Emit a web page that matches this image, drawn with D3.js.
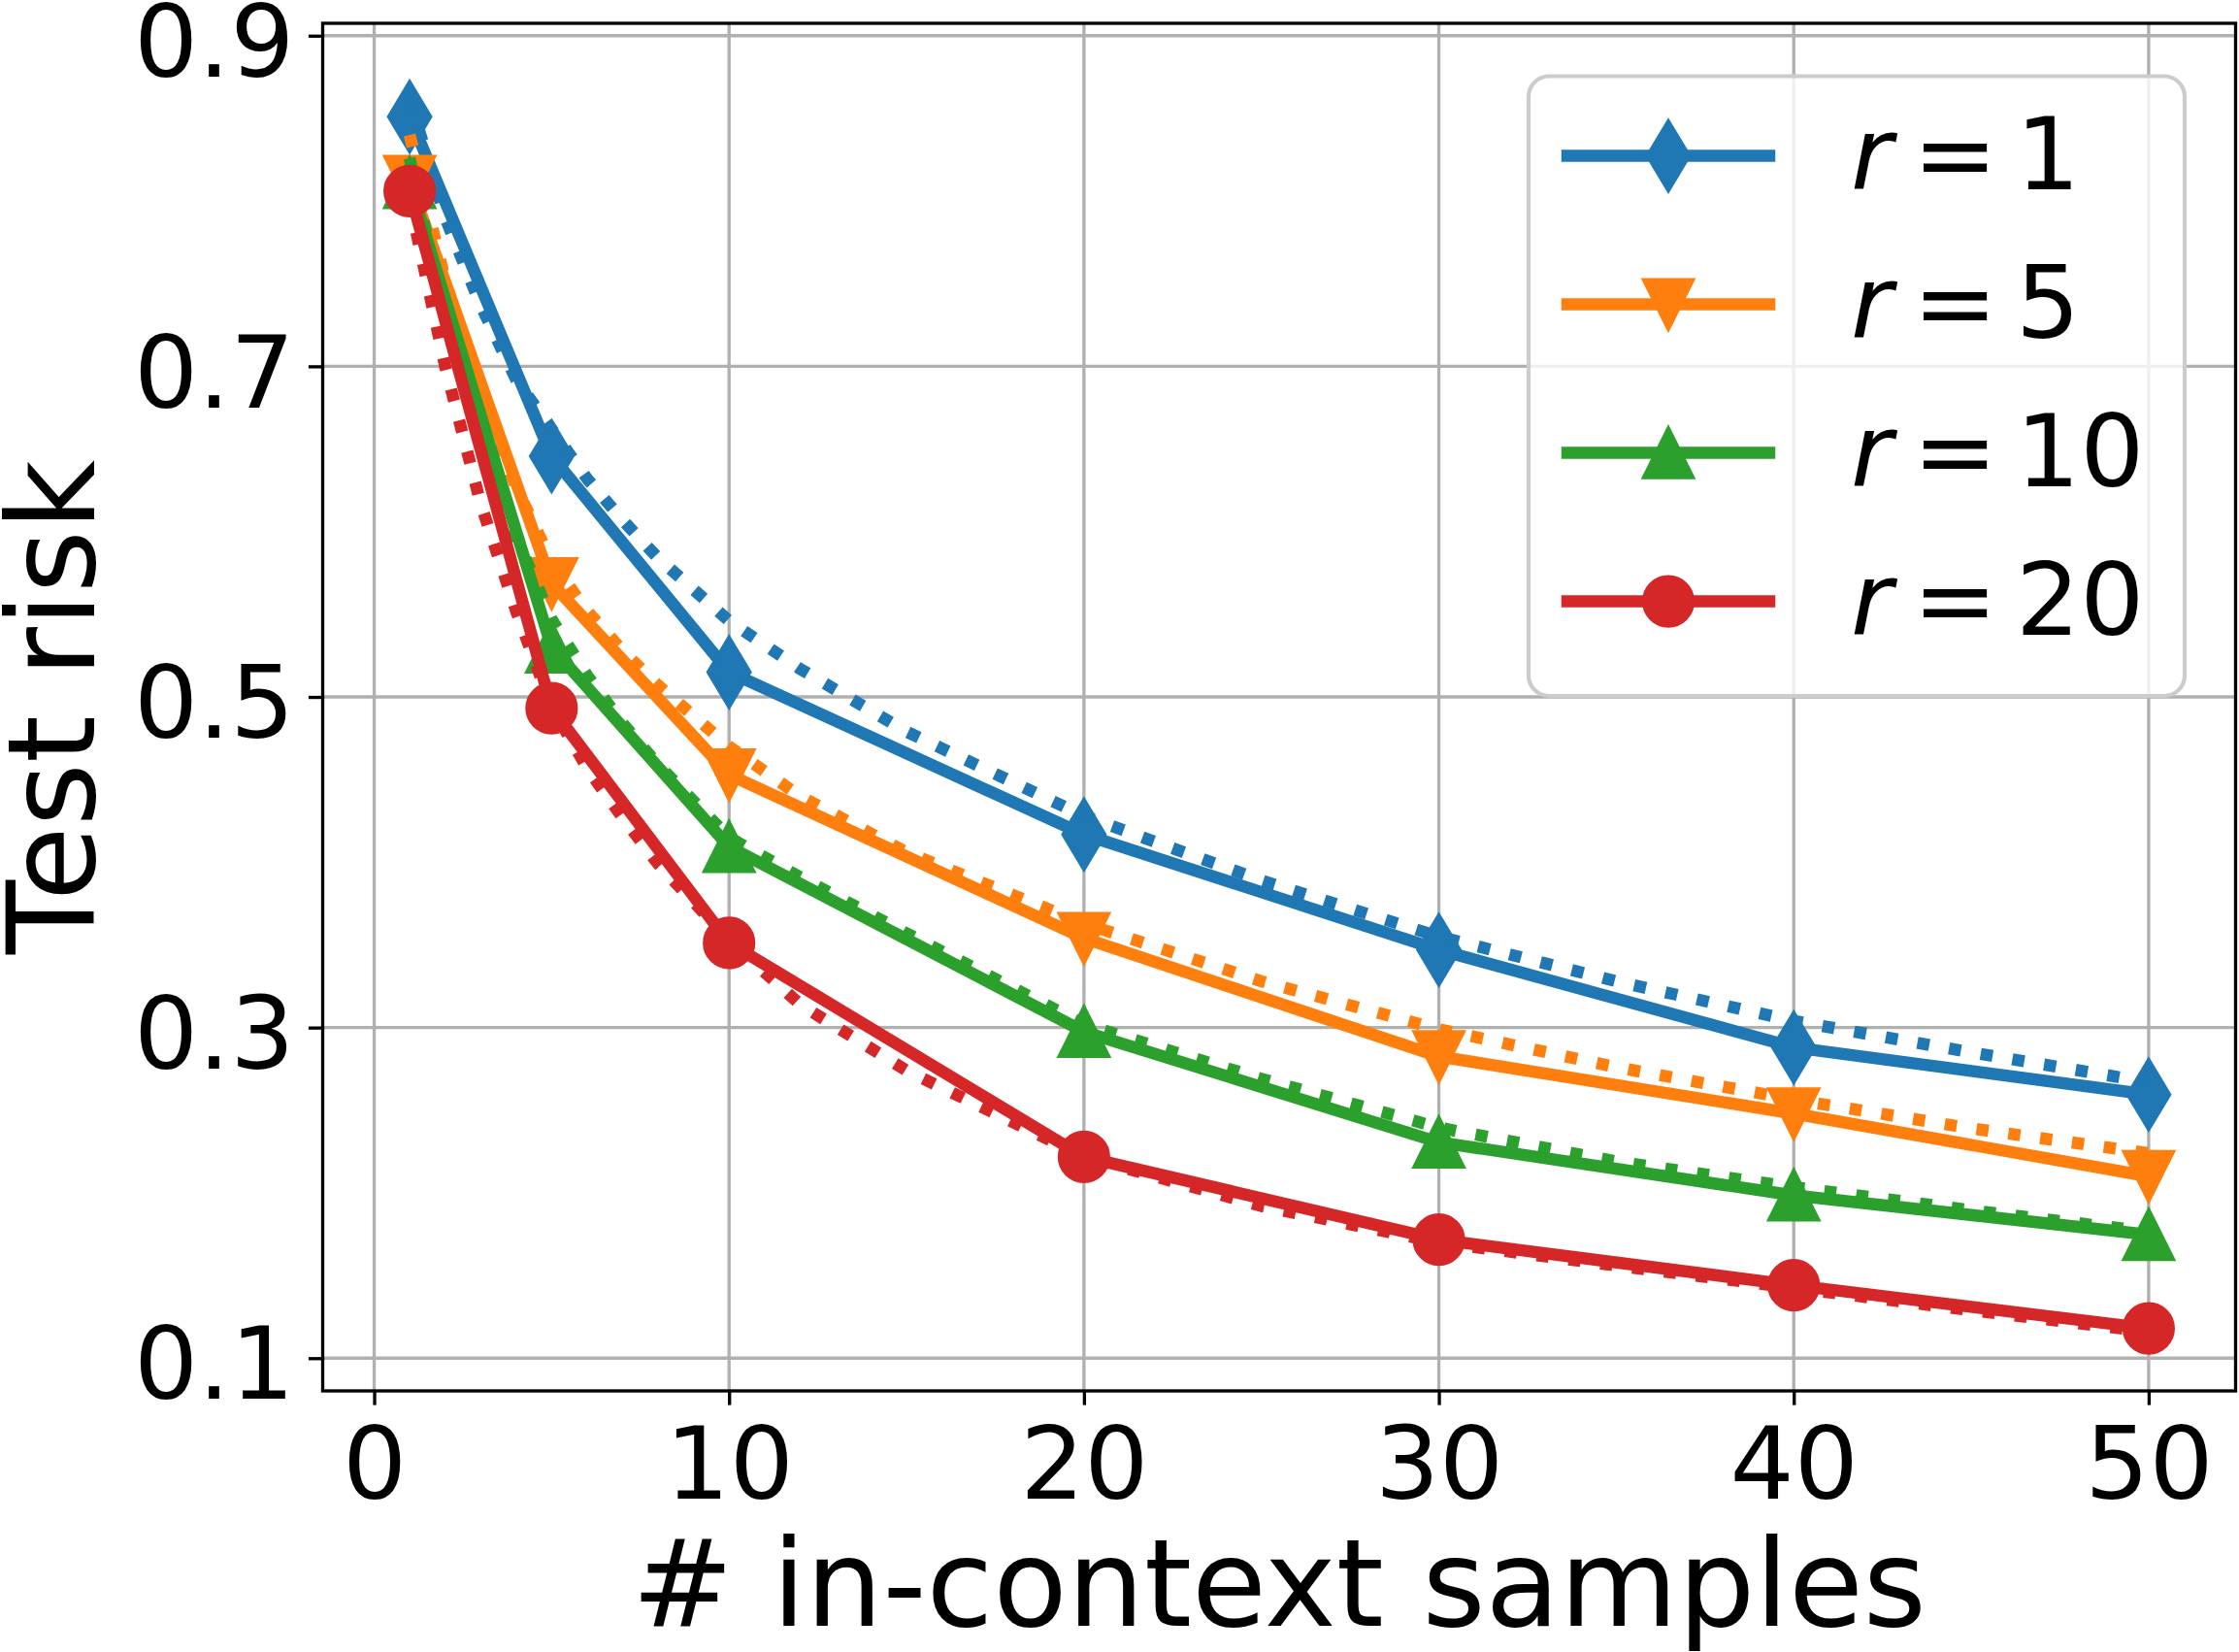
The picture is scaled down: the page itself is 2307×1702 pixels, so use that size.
<!DOCTYPE html>
<html>
<head>
<meta charset="utf-8">
<script src="https://cdn.jsdelivr.net/npm/d3@7"></script>
<style>
  html, body { margin: 0; padding: 0; background: #fff; }
  svg { display: block; font-family: "DejaVu Sans", sans-serif; }
</style>
</head>
<body>
<svg id="chart"></svg>
<script>
var width = 2307;
var height = 1702;

// measured test risk (solid lines with markers)
var nSamples = [1, 5, 10, 20, 30, 40, 50];
var riskR1  = [0.851, 0.6456, 0.515, 0.4168, 0.347, 0.288, 0.2595];
var riskR5  = [0.812, 0.5687, 0.453, 0.354, 0.2825, 0.248, 0.210];
var riskR10 = [0.811, 0.530, 0.4094, 0.2975, 0.2306, 0.1985, 0.1747];
var riskR20 = [0.806, 0.4932, 0.3512, 0.2218, 0.1717, 0.1441, 0.118];

// predicted risk (dotted lines, no markers)
var nTheory = [1, 2, 3, 4, 5, 6, 7, 8, 10, 12, 15, 20, 25, 30, 35, 40, 45, 50];
var theoryR1  = [0.862, 0.790, 0.737, 0.692, 0.662, 0.632, 0.607, 0.584, 0.546, 0.517, 0.479, 0.428, 0.389, 0.355, 0.328, 0.304, 0.285, 0.267];
var theoryR5  = [0.840, 0.752, 0.682, 0.627, 0.582, 0.552, 0.528, 0.507, 0.470, 0.440, 0.406, 0.363, 0.328, 0.299, 0.276, 0.2565, 0.239, 0.224];
var theoryR10 = [0.826, 0.728, 0.655, 0.597, 0.547, 0.513, 0.484, 0.459, 0.415, 0.391, 0.357, 0.302, 0.269, 0.2395, 0.219, 0.2035, 0.1895, 0.1765];
var theoryR20 = [0.800, 0.700, 0.617, 0.552, 0.494, 0.457, 0.427, 0.399, 0.353, 0.314, 0.274, 0.222, 0.192, 0.170, 0.156, 0.1425, 0.129, 0.116];

var rValues = [1, 5, 10, 20];
var colors = ["#1f77b4", "#ff7f0e", "#2ca02c", "#d62728"];
var markerTypes = ["thin_diamond", "triangle_down", "triangle_up", "circle"];

var xTicks = [0, 10, 20, 30, 40, 50];
var yTicks = [0.1, 0.3, 0.5, 0.7, 0.9];
var xLabel = "# in-context samples";
var yLabel = "Test risk";

var series = [
    {r: rValues[0], risk: riskR1,  theory: theoryR1,  color: colors[0], marker: markerTypes[0]},
    {r: rValues[1], risk: riskR5,  theory: theoryR5,  color: colors[1], marker: markerTypes[1]},
    {r: rValues[2], risk: riskR10, theory: theoryR10, color: colors[2], marker: markerTypes[2]},
    {r: rValues[3], risk: riskR20, theory: theoryR20, color: colors[3], marker: markerTypes[3]}
];

var plot = {left: 332.5, right: 2303.5, top: 24, bottom: 1433};
var lw = 12.5;        // 3pt at 300 dpi
var ms = 50;          // 12pt marker
var tickFont = 104;
var labelFont = 125;

var x = d3.scaleLinear().domain([-1.45, 52.45]).range([plot.left, plot.right]);
var y = d3.scaleLinear().domain([0.0802, 0.9075]).range([plot.bottom, plot.top]);

var svg = d3.select("#chart").attr("width", width).attr("height", height);
svg.append("rect").attr("width", width).attr("height", height).attr("fill", "#fff");

function markerPath(type, s) {
    var h = s / 2;
    if (type == "thin_diamond") {
        var hh = s * Math.SQRT1_2, hw = 0.6 * hh;
        return "M0," + (-hh) + "L" + hw + ",0L0," + hh + "L" + (-hw) + ",0Z";
    }
    if (type == "triangle_up") {
        return "M0," + (-h) + "L" + h + "," + h + "L" + (-h) + "," + h + "Z";
    }
    if (type == "triangle_down") {
        return "M0," + h + "L" + h + "," + (-h) + "L" + (-h) + "," + (-h) + "Z";
    }
    // circle
    return "M" + h + ",0A" + h + "," + h + " 0 1,1 " + (-h) + ",0A" + h + "," + h + " 0 1,1 " + h + ",0Z";
}

// grid
var grid = svg.append("g").attr("class", "grid")
    .attr("stroke", "#b0b0b0").attr("stroke-width", 3.33);
grid.selectAll("line.gx").data(xTicks).enter().append("line")
    .attr("x1", function(d) { return x(d); }).attr("x2", function(d) { return x(d); })
    .attr("y1", plot.top).attr("y2", plot.bottom);
grid.selectAll("line.gy").data(yTicks).enter().append("line")
    .attr("y1", function(d) { return y(d); }).attr("y2", function(d) { return y(d); })
    .attr("x1", plot.left).attr("x2", plot.right);

// series
var line = d3.line()
    .x(function(d) { return x(d[0]); })
    .y(function(d) { return y(d[1]); });

var container = svg.append("g").attr("class", "series");
series.forEach(function(s) {
    var g = container.append("g");
    var solidPts = nSamples.map(function(n, i) { return [n, s.risk[i]]; });
    var theoryPts = nTheory.map(function(n, i) { return [n, s.theory[i]]; });

    g.append("path")
        .attr("d", line(solidPts))
        .attr("fill", "none")
        .attr("stroke", s.color)
        .attr("stroke-width", lw)
        .attr("stroke-linejoin", "round")
        .attr("stroke-linecap", "square");

    g.selectAll("path.marker").data(solidPts).enter().append("path")
        .attr("class", "marker")
        .attr("d", markerPath(s.marker, ms))
        .attr("transform", function(d) { return "translate(" + x(d[0]) + "," + y(d[1]) + ")"; })
        .attr("fill", s.color)
        .attr("stroke", s.color)
        .attr("stroke-width", 4.17)
        .attr("stroke-linejoin", "miter");

    g.append("path")
        .attr("d", line(theoryPts))
        .attr("fill", "none")
        .attr("stroke", s.color)
        .attr("stroke-width", lw)
        .attr("stroke-linejoin", "round")
        .attr("stroke-linecap", "butt")
        .attr("stroke-dasharray", "12.5,20.6");
});

// spines
svg.append("rect")
    .attr("x", plot.left).attr("y", plot.top)
    .attr("width", plot.right - plot.left).attr("height", plot.bottom - plot.top)
    .attr("fill", "none").attr("stroke", "#000").attr("stroke-width", 3.33);

// axes
var xAxis = svg.append("g")
    .attr("transform", "translate(0," + plot.bottom + ")")
    .call(d3.axisBottom(x).tickValues(xTicks).tickSize(14.6).tickPadding(22.6).tickFormat(d3.format("d")));
var yAxis = svg.append("g")
    .attr("transform", "translate(" + plot.left + ",0)")
    .call(d3.axisLeft(y).tickValues(yTicks).tickSize(14.6).tickPadding(14.6).tickFormat(d3.format(".1f")));

[xAxis, yAxis].forEach(function(ax) {
    ax.select(".domain").remove();
    ax.selectAll(".tick line").attr("stroke", "#000").attr("stroke-width", 3.33);
    ax.selectAll(".tick text")
        .attr("fill", "#000")
        .style("font-family", "DejaVu Sans")
        .style("font-size", tickFont + "px");
});
yAxis.selectAll(".tick text").attr("dy", "0.4em");

svg.append("text")
    .attr("x", (plot.left + plot.right) / 2)
    .attr("y", 1675)
    .attr("text-anchor", "middle")
    .style("font-size", labelFont + "px")
    .text(xLabel);

svg.append("text")
    .attr("transform", "translate(97," + ((plot.top + plot.bottom) / 2) + ") rotate(-90)")
    .attr("text-anchor", "middle")
    .style("font-size", labelFont + "px")
    .text(yLabel);

// legend
var legend = svg.append("g").attr("class", "legend");
legend.append("rect")
    .attr("x", 1575).attr("y", 78.5)
    .attr("width", 676).attr("height", 638.5)
    .attr("rx", 21).attr("ry", 21)
    .attr("fill", "#fff").attr("fill-opacity", 0.8)
    .attr("stroke", "#cccccc").attr("stroke-width", 4.17);

var rowY0 = 160.6, rowStep = 153;
series.forEach(function(s, i) {
    var ry = rowY0 + i * rowStep;
    var row = legend.append("g");
    row.append("line")
        .attr("x1", 1615).attr("x2", 1823)
        .attr("y1", ry).attr("y2", ry)
        .attr("stroke", s.color).attr("stroke-width", lw)
        .attr("stroke-linecap", "square");
    row.append("path")
        .attr("d", markerPath(s.marker, ms))
        .attr("transform", "translate(1719," + ry + ")")
        .attr("fill", s.color).attr("stroke", s.color)
        .attr("stroke-width", 4.17).attr("stroke-linejoin", "miter");
    var t = row.append("text")
        .attr("y", ry + 34.7)
        .style("font-size", tickFont + "px");
    t.append("tspan").attr("x", 1907).style("font-style", "italic").text("r");
    t.append("tspan").attr("x", 1971).text("=");
    t.append("tspan").attr("x", 2077).text(String(s.r));
});
</script>
</body>
</html>
